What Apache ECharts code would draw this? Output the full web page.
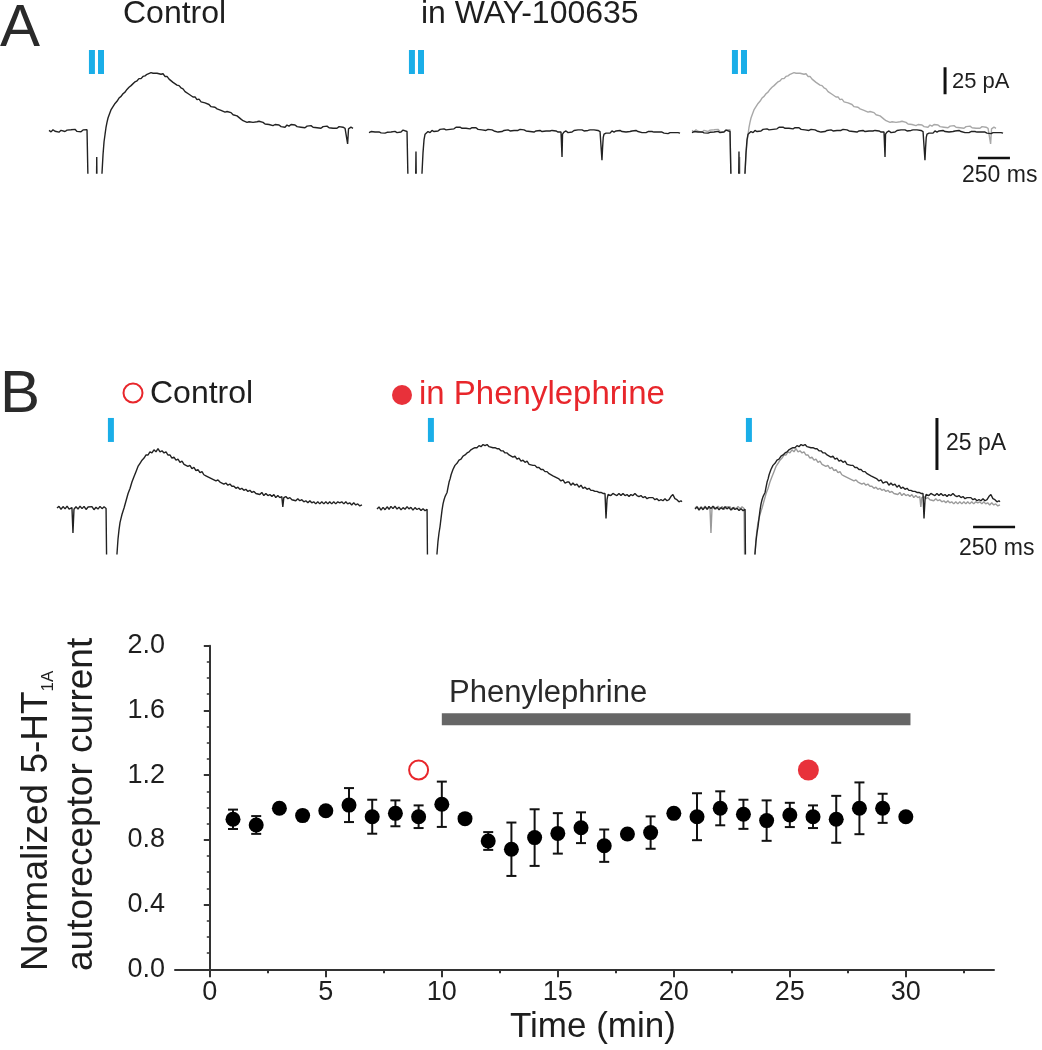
<!DOCTYPE html>
<html>
<head>
<meta charset="utf-8">
<script src="https://cdn.jsdelivr.net/npm/echarts@6/dist/echarts.min.js"></script>
<style>
html, body { margin: 0; padding: 0; background: #fff; }
#main { width: 1042px; height: 1050px; }
</style>
</head>
<body>
<div id="main"></div>
<script>
// ---- traces: [time (ms), current (pA)] ----
// values far below the clip line are the stimulus artifacts (cut off by the grid)
const ctrlA = [[0,0.5],[16,-0.8],[31,1.2],[47,-0.3],[62,0.9],[78,-1.1],[94,0.6],[109,1.4],[125,-0.5],[141,0.8],[156,-0.9],[172,1.1],[187,0.2],[203,1.5],[219,-0.4],[234,0.9],[250,-0.7],[266,1.0],[281,0.3],[297,1.2],[305,0.4],
  [312,-90],[368,-90],[373,-24],[378,-90],[398,-90],
  [414,-39],[422,-22],[430,-10],[438,-3],[445,3],[453,8],[461,12],[473,16],[484,19.5],[500,22.5],[516,25.5],[531,27.5],[547,30.5],[563,32],[578,34.5],[594,36],[609,38.5],[625,40.5],[641,42],[656,43.5],[672,45.5],[688,46.5],[703,48.5],[719,48.5],[734,50.5],[750,51],[766,52.5],[781,53],[797,54],[813,53.5],[828,55],[844,53.5],[859,54.5],[875,52.5],[891,53],[906,50.5],[922,50.5],[938,48],[953,47.5],[969,45],[984,45],[1000,42.5],[1016,42],[1031,40],[1047,39],[1063,36.5],[1078,36],[1094,34],[1109,33.5],[1125,31.5],[1141,31.5],[1156,29],[1172,29.5],[1188,27],[1203,27.5],[1219,26],[1234,25],[1250,24.5],[1266,22.5],[1281,23.5],[1297,22],[1313,20.5],[1328,21],[1344,19],[1359,20],[1375,17.5],[1391,18],[1406,16.5],[1422,17],[1438,15],[1453,15.5],[1469,14],[1484,12.5],[1500,11],[1516,9.5],[1531,9],[1547,8],[1563,8.5],[1578,9.5],[1594,8],[1609,9.5],[1625,8.5],[1641,9],[1656,7.5],[1672,8],[1688,6.5],[1703,7.5],[1719,6],[1734,7],[1750,5],[1766,6],[1781,4.5],[1797,5.5],[1813,4],[1828,5],[1844,3.5],[1859,5.5],[1875,4.5],[1891,6],[1906,4.5],[1922,5.5],[1938,4],[1953,5],[1969,3.5],[1984,4.5],[2000,3],[2016,4.5],[2031,3.5],[2047,5],[2063,3.5],[2078,4.5],[2094,3],[2109,4],[2125,2.5],[2141,4],[2156,3],[2172,4.5],[2188,3],[2203,4],[2219,2.5],[2234,3.5],[2250,2.5],[2266,4],[2281,3],[2297,3.5],[2313,2.5],[2328,3],[2333,-12],[2340,2],[2359,3.5],[2375,2.5]];

const wayA = [[0,-1.5],[16,-0.5],[31,-2],[47,-1],[62,-2.2],[78,-0.8],[94,-1.8],[109,-0.6],[125,-2],[141,-1.2],[156,-2.4],[172,-0.9],[187,-1.6],[203,-0.4],[219,-1.5],[234,-0.3],[250,-1],[266,0.8],[281,1.5],[297,-0.5],[305,-1.5],
  [312,-90],[360,-90],[367,-19],[373,-90],[398,-90],
  [414,-39],[422,-20],[430,-8],[438,-3],[445,-1.5],[461,-0.5],[477,-1.5],[492,0.5],[508,-0.5],[523,1],[539,0],[555,1.5],[570,0.5],[586,2],[602,1],[617,2.5],[633,1.5],[648,3],[664,2],[680,3.5],[695,2.5],[711,3.5],[727,2.5],[742,4],[758,2.5],[773,3.5],[789,2],[805,3],[820,2],[836,3],[852,1.5],[867,2.5],[883,1],[898,2],[914,0.5],[930,1.5],[945,0],[961,1],[977,0],[992,0.5],[1008,-1],[1023,0.5],[1039,-0.5],[1055,0.5],[1070,-0.5],[1086,1],[1102,0],[1117,1],[1133,0.5],[1148,1.5],[1164,0.5],[1180,1.5],[1195,0.5],[1211,1],[1227,0],[1242,0.5],[1258,-0.5],[1273,0],[1289,-1],[1305,0],[1320,-0.5],[1336,0.5],[1352,-0.5],[1367,0.5],[1383,0],[1398,1],[1414,0],[1430,0.5],[1445,-0.5],[1461,0],[1477,-1],[1492,0],[1500,-1],[1508,-24],[1512,-3],[1523,-1],[1539,0],[1555,-1.5],[1570,0],[1586,-1],[1602,0.5],[1617,-0.5],[1633,1],[1648,0],[1664,1],[1680,0],[1695,1.5],[1711,0.5],[1727,1],[1742,0],[1758,1],[1773,0],[1789,0.5],[1805,-0.5],[1813,0],[1820,-27],[1825,-15],[1830,-6],[1836,-3],[1852,-2],[1867,-1],[1883,-2],[1898,0],[1914,-1],[1930,0],[1945,-1],[1961,0.5],[1977,-0.5],[1992,0],[2008,-1],[2023,0.5],[2039,-0.5],[2055,0],[2070,-1],[2086,0.5],[2102,-0.5],[2117,0],[2133,-1.5],[2148,-0.5],[2164,-1.5],[2180,-0.5],[2195,-2],[2211,-0.5],[2227,-1],[2242,-2],[2258,-1],[2273,-2.5],[2289,-1],[2305,-2],[2320,-1],[2336,-2.5],[2352,-1.5],[2367,-2],[2383,-1.5],[2398,-2.5],[2414,-1.5],[2430,-2]];

const ctrlB = [[0,0],[12,0.8],[24,-0.6],[36,0.7],[48,-0.4],[60,0.9],[72,-0.5],[83,0.4],[89,0.2],[95,-12],[101,-0.6],[113,0.6],[125,-0.5],[137,0.9],[149,-0.3],[161,0.8],[173,-0.7],[185,0.5],[196,-0.4],[208,0.7],[220,-0.8],[232,0.4],[244,-0.5],[256,0.8],[268,-0.3],[280,0.6],[292,-0.2],[298,0],
  [300,-60],[350,-60],
  [357,-22],[363,-15],[369,-10.5],[375,-7],[381,-5],[387,-3],[399,0],[411,3.5],[423,7],[435,9.5],[446,12.5],[458,15],[470,17.5],[482,20],[494,21.5],[506,23],[518,24],[530,25.5],[542,25.5],[553,27],[565,26.5],[577,28],[589,27],[601,28.5],[613,27],[625,27.5],[637,26.5],[649,27],[660,25.5],[672,25.5],[684,24],[696,24.5],[708,23],[720,23.5],[732,22],[744,22.5],[756,21],[767,21.5],[779,20],[791,20.5],[803,19],[815,19.5],[827,18],[839,18.5],[851,17],[863,17.5],[874,16],[886,15.5],[898,15],[910,14.5],[922,14],[934,13.5],[946,13],[958,13.5],[970,12.5],[981,12.5],[993,11.5],[1005,12],[1017,11],[1029,11.5],[1041,10.5],[1053,10.5],[1065,9.5],[1077,10],[1088,9],[1100,9.5],[1112,8.5],[1124,9],[1136,8],[1148,8.5],[1160,7.5],[1172,8],[1184,7],[1195,7.5],[1207,6.5],[1219,7.5],[1231,6],[1243,7],[1255,6],[1267,6.5],[1279,5.5],[1291,6.5],[1302,5],[1314,6],[1326,5],[1338,5.5],[1344,0.5],[1350,5],[1362,5.5],[1374,4.5],[1386,5],[1398,4],[1409,4.5],[1421,3.5],[1433,4.5],[1445,3.5],[1457,4],[1469,3],[1481,3.5],[1493,2.5],[1505,3.5],[1516,2.5],[1528,3],[1540,2],[1552,3],[1564,2],[1576,3],[1588,2],[1600,3],[1612,2],[1623,3],[1635,2],[1647,3],[1659,2],[1671,3],[1683,2.5],[1695,3],[1707,2],[1719,3],[1730,2],[1742,2.5],[1754,1.5],[1766,2.5],[1778,1.5],[1790,2],[1802,1],[1815,1.5]];

const pheB = [[0,-0.5],[12,0.5],[24,-1],[36,0.3],[48,-0.8],[60,0.6],[72,-0.6],[83,0.8],[95,-0.3],[107,0.9],[119,-0.5],[131,0.4],[143,-0.9],[155,0.2],[167,-0.6],[179,0.7],[190,-0.4],[202,0.3],[214,-1],[226,0.2],[238,-0.7],[250,-0.1],[262,-1.2],[274,-0.3],[286,-1.3],[298,-0.6],[303,-1],
  [304,-60],[350,-60],
  [357,-22],[363,-16],[369,-12],[375,-9],[381,-5],[387,-1],[393,2],[399,4],[405,5.5],[411,6.5],[417,7.5],[423,10],[429,12.5],[435,14],[441,16],[452,18.5],[464,20.5],[476,21.5],[488,23],[500,23.5],[512,25],[524,25.5],[536,26.5],[548,27],[559,28],[571,28.5],[583,29],[595,29],[607,30],[619,29.5],[631,30.5],[643,30],[655,30.5],[667,29.5],[678,30],[690,29],[702,29],[714,28.5],[726,28.5],[738,27.5],[750,27.5],[762,26.5],[774,26.5],[786,25.5],[797,25.5],[809,24.5],[821,25],[833,23.5],[845,24],[857,22.5],[869,23],[881,22],[893,22.5],[905,21],[916,21.5],[928,20.5],[940,20.5],[952,19.5],[964,19.5],[976,18.5],[988,18.5],[1000,17.5],[1012,17.5],[1024,16.5],[1035,16],[1047,15.5],[1059,15],[1071,14.5],[1083,14],[1095,13],[1107,13.5],[1119,12],[1131,12.5],[1143,12.5],[1154,11],[1166,12],[1178,11],[1190,11.5],[1202,10],[1214,11],[1226,9.5],[1238,10],[1250,9],[1262,9.5],[1273,8.5],[1285,8.5],[1297,8],[1309,8],[1321,7.5],[1333,7.5],[1345,7],[1357,7],[1363,-5],[1369,4],[1375,6.5],[1381,7],[1392,6],[1404,7],[1416,6.5],[1428,6],[1440,7],[1452,6],[1464,7],[1476,6],[1488,6.5],[1500,5.5],[1511,6.5],[1523,6],[1535,7],[1547,6],[1559,5.5],[1571,6],[1583,5],[1595,5.5],[1607,4.5],[1619,5],[1630,4.5],[1642,5],[1654,4],[1666,4.5],[1678,3.5],[1690,4],[1702,3.5],[1714,4.5],[1726,3.5],[1738,4],[1749,5.5],[1761,6.5],[1773,4.5],[1785,4],[1797,3],[1809,3.5],[1815,3]];

// light stimulus times (ms) and height of the blue marks (pA)
const stimA = [312, 383];
const stimB = [303];
const stimTopA = 75;
const stimTopB = 43.3;

// scale bars: [time, current] of the corner, lengths 250 ms / 25 pA
const scaleVA = [1977, 34];
const scaleHA = [2234, -25];
const scaleVB = [1440, 18.3];
const scaleHB = [1655, -9.1];
const scaleMs = 250;
const scalePA = 25;

// ---- time course ----
const timeMin = [1,2,3,4,5,6,7,8,9,10,11,12,13,14,15,16,17,18,19,20,21,22,23,24,25,26,27,28,29,30];
const meanCur = [0.927,0.892,0.995,0.950,0.980,1.015,0.943,0.964,0.943,1.020,0.931,0.793,0.742,0.814,0.840,0.875,0.764,0.836,0.845,0.964,0.943,0.995,0.958,0.919,0.954,0.943,0.927,0.995,0.995,0.943];
const semCur = [0.060,0.055,0.020,0.030,0.020,0.105,0.105,0.080,0.070,0.140,0.020,0.055,0.165,0.175,0.125,0.095,0.100,0.020,0.100,0.020,0.145,0.105,0.090,0.125,0.075,0.070,0.145,0.160,0.090,0.020];
const ctrlPoint = [9, 1.232];
const phePoint = [25.8, 1.232];
const drugSpan = [10, 30.2];
const drugLevel = 1.545;
const xTicks = [0, 5, 10, 15, 20, 25, 30];

const FONT = 'Liberation Sans, Arial, Helvetica, sans-serif';
const INK = '#1e1e1e';
const RED = '#e8262b';
const BLUE = '#1aaee8';

const chart = echarts.init(document.getElementById('main'));

const gridsA = [49, 369, 692].map(l => ({ left: l, top: 48.9, width: 320, height: 124.2 }));
const gridsB = [57, 377, 695].map(l => ({ left: l, top: 416.5, width: 322.6, height: 137.3 }));
const gridT = { left: 175, top: 645.7, width: 819, height: 323.6 };

const hiddenX = (max, i) => ({ type: 'value', gridIndex: i, min: 0, max: max, show: false });
const hiddenY = (min, max, i) => ({ type: 'value', gridIndex: i, min: min, max: max, show: false });

function trace(data, idx, color) {
  return {
    type: 'line', xAxisIndex: idx, yAxisIndex: idx, data: data,
    showSymbol: false, symbol: 'none', clip: true,
    lineStyle: { color: color, width: 1.4 }, silent: true
  };
}

function stim(times, top, idx) {
  return {
    type: 'custom', xAxisIndex: idx, yAxisIndex: idx, clip: false,
    data: times.map(t => [t, top]),
    renderItem: (params, api) => {
      const p = api.coord([api.value(0), api.value(1)]);
      return { type: 'rect', shape: { x: p[0], y: p[1], width: 6, height: 24 }, style: { fill: BLUE } };
    }
  };
}

function bar(pts, idx, w) {
  return {
    type: 'line', xAxisIndex: idx, yAxisIndex: idx, data: pts, clip: false,
    symbol: 'none', lineStyle: { color: '#111', width: w }, silent: true
  };
}

const series = [
  trace(ctrlA, 0, '#222'),
  trace(wayA, 1, '#222'),
  trace(ctrlA, 2, '#a8a8a8'),
  trace(wayA, 2, '#222'),
  trace(ctrlB, 3, '#222'),
  trace(pheB, 4, '#222'),
  trace(ctrlB, 5, '#9a9a9a'),
  trace(pheB, 5, '#222'),
  stim(stimA, stimTopA, 0), stim(stimA, stimTopA, 1), stim(stimA, stimTopA, 2),
  stim(stimB, stimTopB, 3), stim(stimB, stimTopB, 4), stim(stimB, stimTopB, 5),
  bar([scaleVA, [scaleVA[0], scaleVA[1] + scalePA]], 2, 3),
  bar([scaleHA, [scaleHA[0] + scaleMs, scaleHA[1]]], 2, 2.5),
  bar([scaleVB, [scaleVB[0], scaleVB[1] + scalePA]], 5, 3),
  bar([scaleHB, [scaleHB[0] + scaleMs, scaleHB[1]]], 5, 2.5),
  // drug application bar
  {
    type: 'line', xAxisIndex: 6, yAxisIndex: 6, symbol: 'none', silent: true,
    data: [[drugSpan[0], drugLevel], [drugSpan[1], drugLevel]],
    lineStyle: { color: '#666', width: 12, cap: 'butt' }
  },
  // error bars
  {
    type: 'custom', xAxisIndex: 6, yAxisIndex: 6, z: 3,
    data: timeMin.map((t, i) => [t, meanCur[i], semCur[i]]),
    renderItem: (params, api) => {
      const x = api.value(0), m = api.value(1), e = api.value(2);
      const a = api.coord([x, m + e]);
      const b = api.coord([x, m - e]);
      const st = { stroke: '#111', lineWidth: 2 };
      return {
        type: 'group', children: [
          { type: 'line', shape: { x1: a[0], y1: a[1], x2: b[0], y2: b[1] }, style: st },
          { type: 'line', shape: { x1: a[0] - 5, y1: a[1], x2: a[0] + 5, y2: a[1] }, style: st },
          { type: 'line', shape: { x1: b[0] - 5, y1: b[1], x2: b[0] + 5, y2: b[1] }, style: st }
        ]
      };
    }
  },
  {
    type: 'scatter', xAxisIndex: 6, yAxisIndex: 6, z: 4,
    data: timeMin.map((t, i) => [t, meanCur[i]]),
    symbolSize: 15, itemStyle: { color: '#000', opacity: 1 }
  },
  {
    type: 'scatter', xAxisIndex: 6, yAxisIndex: 6, z: 4,
    data: [ctrlPoint], symbolSize: 19,
    itemStyle: { color: 'rgba(0,0,0,0)', borderColor: RED, borderWidth: 2, opacity: 1 }
  },
  {
    type: 'scatter', xAxisIndex: 6, yAxisIndex: 6, z: 4,
    data: [phePoint], symbolSize: 21, itemStyle: { color: '#e8313a', opacity: 1 }
  }
];

function txt(s, x, y, size, color, extra) {
  return Object.assign({
    type: 'text', x: x, y: y, silent: true,
    style: { text: s, font: size + 'px ' + FONT, fill: color || INK, textVerticalAlign: 'middle' }
  }, extra || {});
}

const option = {
  animation: false,
  backgroundColor: '#fff',
  grid: gridsA.concat(gridsB, [gridT]),
  xAxis: [
    hiddenX(2500, 0), hiddenX(2500, 1), hiddenX(2500, 2),
    hiddenX(1920, 3), hiddenX(1920, 4), hiddenX(1920, 5),
    {
      type: 'value', gridIndex: 6, min: -1.5, max: 33.8, minInterval: 5, maxInterval: 5,
      axisLine: { lineStyle: { color: '#333', width: 2 } },
      axisTick: { length: 8, lineStyle: { width: 2, color: '#333' }, customValues: xTicks },
      minorTick: { show: true, splitNumber: 2, length: 4, lineStyle: { width: 2, color: '#333' } },
      axisLabel: {
        customValues: xTicks, fontSize: 27, color: INK, fontFamily: FONT, margin: 10,
        formatter: v => (v % 5 === 0 ? String(v) : '')
      },
      splitLine: { show: false }
    }
  ],
  yAxis: [
    hiddenY(-39, 76, 0), hiddenY(-39, 76, 1), hiddenY(-39, 76, 2),
    hiddenY(-22, 44, 3), hiddenY(-22, 44, 4), hiddenY(-22, 44, 5),
    {
      type: 'value', gridIndex: 6, min: 0, max: 2, interval: 0.4,
      axisLine: { show: true, lineStyle: { color: '#333', width: 2 } },
      axisTick: { show: true, length: 6, lineStyle: { width: 2, color: '#333' } },
      minorTick: { show: true, splitNumber: 4, length: 3, lineStyle: { width: 1.5, color: '#333' } },
      axisLabel: { fontSize: 27, color: INK, fontFamily: FONT, margin: 10, formatter: v => v.toFixed(1) },
      splitLine: { show: false }
    }
  ],
  series: series,
  graphic: [
    txt('A', 0, 29, 60, '#2a2a2a'),
    txt('Control', 123, 14, 32),
    txt('in WAY-100635', 421, 14, 32),
    txt('25 pA', 952, 82, 22),
    txt('250 ms', 962, 176, 23),
    txt('B', 0, 395, 60, '#2a2a2a'),
    { type: 'circle', shape: { cx: 133, cy: 393, r: 9.5 }, style: { fill: 'none', stroke: RED, lineWidth: 2 } },
    txt('Control', 150, 394, 32),
    { type: 'circle', shape: { cx: 402, cy: 395, r: 10 }, style: { fill: '#e8313a' } },
    txt('in Phenylephrine', 419, 395, 33, RED),
    txt('25 pA', 946, 444, 23),
    txt('250 ms', 959, 549, 23),
    txt('Phenylephrine', 449, 693, 31, '#2a2a2a'),
    txt('Time (min)', 510, 1027, 35),
    {
      type: 'text', x: 14, y: 971, rotation: Math.PI / 2, silent: true,
      style: {
        text: '{m|Normalized 5-HT}{s|1A}\n{m|autoreceptor current}',
        textAlign: 'left', textVerticalAlign: 'top', fill: INK,
        rich: {
          m: { fontSize: 37, fontFamily: FONT, lineHeight: 45, fill: INK },
          s: { fontSize: 17, fontFamily: FONT, lineHeight: 45, fill: INK, verticalAlign: 'bottom', padding: [0, 0, 2, 0] }
        }
      }
    }
  ]
};

chart.setOption(option);
</script>
</body>
</html>
